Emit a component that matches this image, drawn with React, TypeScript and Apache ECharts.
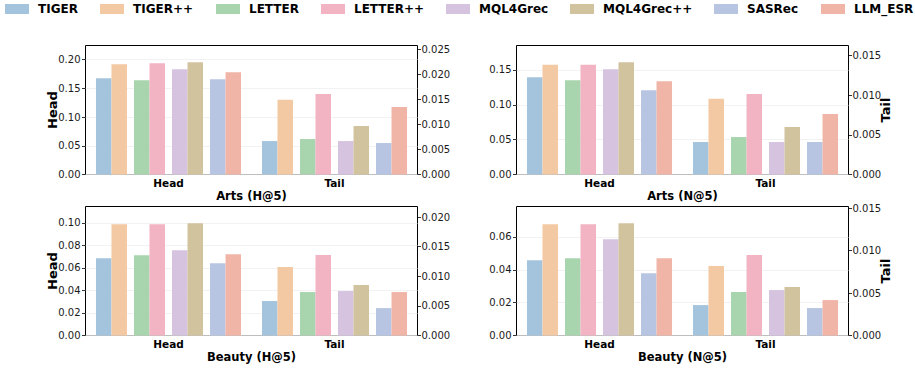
import React, { useEffect, useRef } from "react";
import * as echarts from "echarts";

const models = ["TIGER", "TIGER++", "LETTER", "LETTER++", "MQL4Grec", "MQL4Grec++", "SASRec", "LLM_ESR"];
const colors = ["#a4c4de", "#f3c9a3", "#a8d5ae", "#f2b3c3", "#d6c3e0", "#d2c39f", "#b7c5e3", "#f0b5a6"];
const groups = ["Head", "Tail"];

const artsHHead = [0.1675, 0.1919, 0.1641, 0.1936, 0.1832, 0.1954, 0.1658, 0.178];
const artsHTail = [0.0067, 0.01495, 0.0071, 0.01615, 0.0067, 0.00972, 0.0063, 0.01354];
const artsNHead = [0.1395, 0.1576, 0.1352, 0.1576, 0.151, 0.161, 0.1209, 0.1338];
const artsNTail = [0.0041, 0.00955, 0.00473, 0.01018, 0.0041, 0.006, 0.0041, 0.00765];
const beautyHHead = [0.0686, 0.0988, 0.0713, 0.0988, 0.0757, 0.0997, 0.0642, 0.0722];
const beautyHTail = [0.00582, 0.01158, 0.00734, 0.01362, 0.00751, 0.00853, 0.00463, 0.00734];
const beautyNHead = [0.0458, 0.0677, 0.047, 0.0677, 0.0586, 0.0683, 0.0379, 0.047];
const beautyNTail = [0.00358, 0.00819, 0.00512, 0.00949, 0.00535, 0.00571, 0.00323, 0.00417];

const ticksLeftArtsH = [0, 0.05, 0.1, 0.15, 0.2];
const ticksRightArtsH = [0, 0.005, 0.01, 0.015, 0.02, 0.025];
const ticksLeftArtsN = [0, 0.05, 0.1, 0.15];
const ticksRightArtsN = [0, 0.005, 0.01, 0.015];
const ticksLeftBeautyH = [0, 0.02, 0.04, 0.06, 0.08, 0.1];
const ticksRightBeautyH = [0, 0.005, 0.01, 0.015, 0.02];
const ticksLeftBeautyN = [0, 0.02, 0.04, 0.06];
const ticksRightBeautyN = [0, 0.005, 0.01, 0.015];

const FONT = "DejaVu Sans";
const GRID_W = 332;
const GRID_H = 129;
const BAR_W = 0.0934;
const PAIR_STEP = 0.229;
const GROUP_W = 3 * PAIR_STEP + 2 * BAR_W;

const panels = [
  { title: "Arts (H@5)", head: artsHHead, tail: artsHTail, lt: ticksLeftArtsH, rt: ticksRightArtsH, left: 85.5, top: 45.5, leftName: "Head", rightName: "" },
  { title: "Arts (N@5)", head: artsNHead, tail: artsNTail, lt: ticksLeftArtsN, rt: ticksRightArtsN, left: 516.5, top: 45.5, leftName: "", rightName: "Tail" },
  { title: "Beauty (H@5)", head: beautyHHead, tail: beautyHTail, lt: ticksLeftBeautyH, rt: ticksRightBeautyH, left: 85.5, top: 206.5, leftName: "Head", rightName: "" },
  { title: "Beauty (N@5)", head: beautyNHead, tail: beautyNTail, lt: ticksLeftBeautyN, rt: ticksRightBeautyN, left: 516.5, top: 206.5, leftName: "", rightName: "Tail" },
];

const legendLeft = [5, 100, 216, 321, 446, 570, 714, 821];

function offsetOf(i: number) {
  const pair = Math.floor(i / 2);
  const member = i % 2;
  return -GROUP_W / 2 + pair * PAIR_STEP + member * BAR_W;
}

export default function App() {
  const ref = useRef<HTMLDivElement>(null);
  useEffect(() => {
    if (!ref.current) return;
    const chart = echarts.init(ref.current, undefined, { renderer: "svg" });

    const grid: any[] = [];
    const xAxis: any[] = [];
    const yAxis: any[] = [];
    const series: any[] = [];
    const graphic: any[] = [];

    panels.forEach((p, pi) => {
      grid.push({
        left: p.left,
        top: p.top,
        width: GRID_W,
        height: GRID_H,
        show: true,
        borderColor: "#000",
        borderWidth: 1,
        backgroundColor: "transparent",
      });
      xAxis.push({
        type: "category",
        gridIndex: pi,
        data: groups,
        boundaryGap: true,
        axisLine: { show: false },
        axisTick: { show: false },
        splitLine: { show: false },
        axisLabel: { fontFamily: FONT, fontWeight: "bold", fontSize: 10.5, color: "#000", margin: 3 },
      });
      const headMax = Math.max(...p.head) * 1.15;
      const tailMax = Math.max(...p.tail) * 1.6;
      yAxis.push({
        type: "value",
        gridIndex: pi,
        position: "left",
        min: 0,
        max: headMax,
        axisLine: { show: false },
        axisTick: { show: true, length: 3.5, lineStyle: { color: "#000", width: 0.8 }, customValues: p.lt },
        axisLabel: {
          fontFamily: FONT,
          fontSize: 10,
          color: "#1a1a1a",
          margin: 5,
          customValues: p.lt,
          formatter: (v: number) => v.toFixed(2),
        },
        splitLine: { show: true, lineStyle: { color: "#efefef", width: 0.8 } },
      });
      yAxis.push({
        type: "value",
        gridIndex: pi,
        position: "right",
        min: 0,
        max: tailMax,
        axisLine: { show: false },
        axisTick: { show: true, length: 3.5, lineStyle: { color: "#000", width: 0.8 }, customValues: p.rt },
        axisLabel: {
          fontFamily: FONT,
          fontSize: 10,
          color: "#1a1a1a",
          margin: 4,
          customValues: p.rt,
          formatter: (v: number) => v.toFixed(3),
        },
        splitLine: { show: false },
      });

      models.forEach((m, i) => {
        const off = offsetOf(i);
        const renderItem = (params: any, api: any) => {
          const cat = api.value(0);
          const val = api.value(1);
          const base = api.coord([cat, 0]);
          const top = api.coord([cat, val]);
          const band = api.size([1, 0])[0];
          return {
            type: "rect",
            shape: { x: base[0] + band * off, y: top[1], width: band * BAR_W, height: base[1] - top[1] },
            style: api.style(),
          };
        };
        series.push({
          type: "custom",
          name: m,
          xAxisIndex: pi,
          yAxisIndex: pi * 2,
          data: [[0, p.head[i]]],
          encode: { x: 0, y: 1 },
          itemStyle: { color: colors[i] },
          renderItem,
        });
        series.push({
          type: "custom",
          name: m,
          xAxisIndex: pi,
          yAxisIndex: pi * 2 + 1,
          data: [[1, p.tail[i]]],
          encode: { x: 0, y: 1 },
          itemStyle: { color: colors[i] },
          renderItem,
        });
      });

      const cx = p.left + GRID_W / 2;
      const bottom = p.top + GRID_H;
      graphic.push({
        type: "text",
        x: cx,
        y: bottom + 21,
        style: { text: p.title, fontFamily: FONT, fontWeight: "bold", fontSize: 11.5, fill: "#000", align: "center", verticalAlign: "middle" },
      });
      if (p.leftName) {
        graphic.push({
          type: "text",
          x: p.left - 33,
          y: p.top + GRID_H / 2,
          rotation: Math.PI / 2,
          style: { text: p.leftName, fontFamily: FONT, fontWeight: "bold", fontSize: 13, fill: "#000", align: "center", verticalAlign: "middle" },
        });
      }
      if (p.rightName) {
        graphic.push({
          type: "text",
          x: p.left + GRID_W + 37,
          y: p.top + GRID_H / 2,
          rotation: Math.PI / 2,
          style: { text: p.rightName, fontFamily: FONT, fontWeight: "bold", fontSize: 13, fill: "#000", align: "center", verticalAlign: "middle" },
        });
      }
    });

    const legend = models.map((m, i) => ({
      data: [{ name: m, icon: "rect", itemStyle: { color: colors[i] } }],
      left: legendLeft[i],
      top: 3,
      padding: 0,
      itemWidth: 24,
      itemHeight: 10,
      selectedMode: false,
      textStyle: { fontFamily: FONT, fontWeight: "bold", fontSize: 12, color: "#000", padding: [0, 0, 0, 4] },
    }));

    chart.setOption({
      animation: false,
      backgroundColor: "#fff",
      legend,
      grid,
      xAxis,
      yAxis,
      series,
      graphic,
    });
    return () => chart.dispose();
  }, []);

  return <div ref={ref} style={{ position: "fixed", left: 0, top: 0, width: 915, height: 368 }} />;
}
